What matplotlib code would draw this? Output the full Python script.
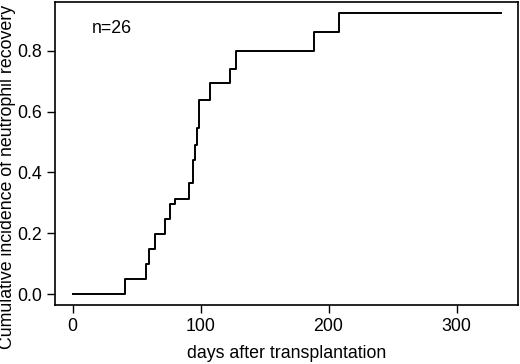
import numpy as np
import matplotlib
matplotlib.use("Agg")
import matplotlib.pyplot as plt

plt.rcParams['font.family'] = ['Liberation Sans', 'DejaVu Sans']

# step times (days) and cumulative incidence after each step
days = [0, 41, 57, 60, 64, 72, 76, 80, 91, 94, 95.4, 97.3, 99, 107, 123, 128, 189, 208, 334.5]
incidence = [0.0, 0.049, 0.099, 0.148, 0.197, 0.247, 0.296, 0.313, 0.364, 0.44, 0.49,
             0.545, 0.638, 0.695, 0.74, 0.80, 0.863, 0.925, 0.925]
x_ticks = [0, 100, 200, 300]
y_ticks = [0.0, 0.2, 0.4, 0.6, 0.8]

fig = plt.figure(figsize=(5.2, 3.64), dpi=100)
ax = fig.add_axes([0.106, 0.162, 0.89, 0.832])

ax.step(days, incidence, where='post', color='black', lw=1.4)

ax.set_xlim(-13.7, 348)
ax.set_ylim(-0.036, 0.96)
ax.set_xticks(x_ticks)
ax.set_yticks(y_ticks)
ax.set_yticklabels(["%.1f" % v for v in y_ticks])
ax.tick_params(labelsize=12.8, length=6, width=1, color='black')
for s in ax.spines.values():
    s.set_linewidth(1.2)

ax.set_xlabel("days after transplantation", fontsize=12.8, labelpad=7)
# y label sits centred on the figure, not on the axes
fig.text(8 / 520, 1 - 177 / 364, "Cumulative incidence of neutrophil recovery",
         rotation=90, ha='center', va='center', fontsize=12.8)
ax.text(0.08, 0.914, "n=26", transform=ax.transAxes, fontsize=12.8, va='center')

fig.savefig("out.png", dpi=100)
